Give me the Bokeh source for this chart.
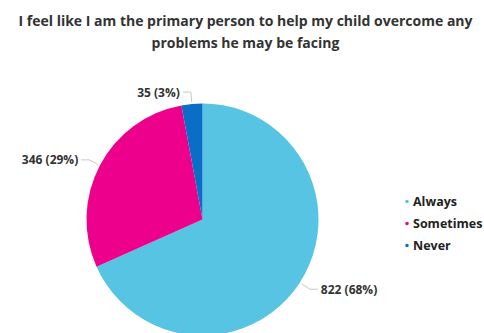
import math
from bokeh.plotting import figure
from bokeh.models import Range1d, ColumnDataSource, Legend, LegendItem
from bokeh.core.properties import value
from bokeh.embed import file_html
from bokeh.resources import INLINE

categories = ["Always", "Sometimes", "Never"]
counts = [822, 346, 35]
percent_labels = ["68%", "29%", "3%"]
colors = ["#56C4E2", "#EC008C", "#0B6EC6"]
title_text = "I feel like I am the primary person to help my child overcome any\nproblems he may be facing"

W, H = 484, 333
FONT = "Open Sans"
cx, cy, R = 202, H - 219, 116

total = sum(counts)
starts, ends = [], []
ang = math.pi / 2
for c in counts:
    a = 2 * math.pi * c / total
    starts.append(ang)
    ends.append(ang - a)
    ang -= a

p = figure(width=W, height=H, x_range=Range1d(0, W), y_range=Range1d(0, H),
           x_axis_type=None, y_axis_type=None, toolbar_location=None,
           output_backend="svg", min_border=0)
p.outline_line_color = None
p.grid.visible = False

src = ColumnDataSource(dict(cat=categories, val=counts, start=starts, end=ends, color=colors))
p.wedge(x=cx, y=cy, radius=R, start_angle="start", end_angle="end", direction="clock",
        fill_color="color", line_color=None, source=src)

# labels with leader lines
lx, ly, lal, ltxt = [], [], [], []
for c, pl, s, e in zip(counts, percent_labels, starts, ends):
    mid = (s + e) / 2
    ux, uy = math.cos(mid), math.sin(mid)
    x0, y0 = cx + (R + 2) * ux, cy + (R + 2) * uy
    x1, y1 = cx + (R + 12) * ux, cy + (R + 12) * uy
    side = 1 if ux > 0 else -1
    x2 = x1 + side * 8
    p.line([x0, x1, x2], [y0, y1, y1], line_color="#c8c8c8", line_width=1)
    lx.append(x2 + side * 3)
    ly.append(y1)
    lal.append("left" if side > 0 else "right")
    ltxt.append(f"{c} ({pl})")
lsrc = ColumnDataSource(dict(x=lx, y=ly, t=ltxt, a=lal))
p.text(x="x", y="y", text="t", text_align="a", text_baseline="middle",
       text_font=value(FONT), text_font_style="bold", text_font_size="12px",
       text_color="#333333", source=lsrc)

# title
p.text(x=[W / 2 + 3], y=[H - 31], text=[title_text], text_align="center",
       text_baseline="middle", text_font=value(FONT), text_font_style="bold",
       text_font_size="14px", text_color="#333333", text_line_height=1.15)

# legend
items = []
for cat, col in zip(categories, colors):
    r = p.scatter(x=[-100], y=[-100], size=5, marker="circle", fill_color=col, line_color=None)
    items.append(LegendItem(label=cat, renderers=[r]))
legend = Legend(items=items, location=(402, 79), glyph_width=9, glyph_height=18,
                label_height=18, spacing=4, label_standoff=2, padding=0, margin=0,
                border_line_color=None, background_fill_alpha=0,
                label_text_font=FONT, label_text_font_style="bold",
                label_text_font_size="12.5px", label_text_color="#222222")
p.add_layout(legend)

open("out.html", "w").write(file_html(p, INLINE))
